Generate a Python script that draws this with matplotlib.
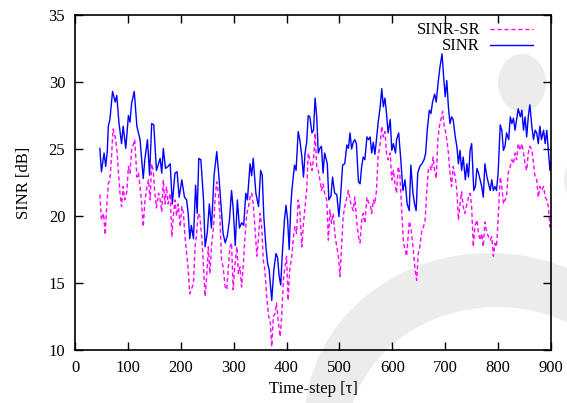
import matplotlib
matplotlib.use("Agg")
import matplotlib.pyplot as plt
from matplotlib.patches import Ellipse, Polygon
import numpy as np

plt.rcParams['font.family'] = ['Liberation Serif', 'DejaVu Serif']
plt.rcParams['mathtext.fontset'] = 'stix'

# SINR (solid blue) samples: time-step, dB
sinr_t = [47, 50, 55, 58, 61, 63, 66, 71, 76, 79, 83, 88, 91, 96, 101, 104, 107, 112, 117, 123,
          129, 132, 137, 141, 145, 149, 154, 161, 164, 167, 171, 176, 180, 184, 189, 193, 197, 202, 207, 211,
          214, 217, 220, 224, 228, 231, 234, 238, 243, 246, 250, 254, 258, 263, 268, 272, 276, 280, 284, 288,
          292, 296, 299, 303, 307, 311, 315, 319, 323, 326, 331, 334, 337, 342, 347, 351, 354, 357, 361, 364,
          367, 372, 376, 380, 383, 386, 389, 392, 396, 399, 402, 405, 408, 410, 413, 415, 418, 422, 425, 429,
          432, 435, 438, 441, 444, 448, 451, 454, 457, 460, 463, 466, 469, 472, 477, 480, 484, 487, 491, 495,
          499, 502, 506, 510, 514, 517, 520, 523, 526, 529, 532, 536, 539, 542, 545, 548, 552, 555, 558, 561,
          564, 567, 570, 573, 577, 580, 583, 586, 589, 592, 596, 599, 602, 606, 608, 612, 616, 620, 624, 628,
          632, 635, 639, 642, 645, 648, 652, 656, 660, 663, 666, 670, 673, 676, 680, 683, 687, 690, 694, 697,
          700, 703, 706, 709, 712, 715, 719, 722, 725, 728, 731, 734, 738, 741, 744, 747, 750, 754, 757, 760,
          763, 766, 769, 772, 775, 779, 782, 785, 788, 791, 794, 797, 800, 804, 807, 810, 813, 816, 820, 823,
          826, 829, 832, 835, 838, 842, 845, 848, 851, 854, 857, 860, 864, 867, 870, 873, 876, 879, 882, 886,
          889, 892, 895, 898, 900]
sinr_db = [25.05, 23.3, 24.7, 23.7, 24.8, 26.7, 27.2, 29.3, 28.5, 29.0, 27.0, 25.4, 26.7, 25.05, 27.5, 27.0, 28.4, 29.3, 26.7, 25.7,
           22.8, 24.2, 25.7, 23.05, 26.9, 26.8, 23.4, 24.3, 23.2, 25.05, 23.55, 23.7, 23.9, 20.9, 23.2, 23.3, 21.4, 22.7, 21.4, 21.2,
           20.2, 18.3, 19.3, 18.3, 22.3, 20.2, 24.3, 24.2, 21.2, 17.7, 18.7, 20.9, 19.1, 23.05, 24.8, 23.0, 20.9, 18.7, 18.0, 18.5,
           19.7, 21.9, 20.6, 17.8, 21.2, 19.1, 19.5, 19.3, 21.7, 21.2, 23.9, 23.0, 24.3, 21.7, 20.7, 23.4, 23.05, 19.95, 17.7, 16.5,
           16.0, 13.7, 16.0, 17.2, 16.9, 15.5, 14.85, 17.2, 19.7, 20.8, 19.7, 17.5, 20.7, 21.9, 23.0, 23.8, 23.4, 26.3, 25.7, 24.4,
           22.9, 24.7, 25.5, 27.5, 27.4, 26.2, 26.4, 28.8, 27.4, 24.7, 25.05, 25.2, 23.2, 24.7, 23.9, 21.2, 21.5, 22.9, 21.7, 21.6,
           19.95, 21.4, 23.8, 23.9, 25.3, 25.05, 26.2, 25.0, 25.5, 25.7, 25.4, 22.55, 22.4, 23.7, 24.4, 24.2, 25.9, 25.7, 25.9, 24.7,
           25.5, 24.6, 25.7, 26.9, 28.15, 29.5, 28.15, 28.8, 27.65, 26.2, 27.2, 24.9, 25.4, 24.7, 25.7, 26.2, 24.2, 21.9, 22.7, 20.9,
           20.4, 23.8, 21.7, 20.9, 20.4, 23.2, 23.7, 23.9, 24.2, 24.7, 26.4, 27.9, 27.65, 28.5, 29.1, 28.5, 30.1, 31.1, 32.1, 30.4,
           28.9, 30.1, 28.15, 26.9, 27.4, 27.2, 25.9, 25.2, 23.9, 24.9, 23.4, 24.4, 22.7, 23.9, 22.9, 24.9, 25.4, 21.9, 22.2, 23.55,
           23.2, 22.7, 22.2, 21.4, 23.9, 22.9, 22.4, 21.9, 22.7, 21.9, 22.2, 21.9, 23.2, 26.8, 26.4, 24.9, 25.2, 26.2, 25.7, 27.4,
           26.9, 27.3, 26.4, 27.2, 28.0, 27.4, 27.9, 26.4, 27.4, 25.9, 27.4, 28.3, 26.6, 25.7, 26.4, 26.2, 25.4, 26.7, 25.7, 26.4,
           25.4, 26.4, 24.9, 23.4, 24.0]

# SINR-SR (dashed magenta) samples: time-step, dB
sr_t = [47, 50, 54, 57, 60, 63, 66, 69, 72, 76, 79, 82, 85, 88, 91, 94, 98, 101, 104, 107,
        110, 113, 117, 120, 123, 126, 129, 132, 136, 139, 142, 145, 148, 151, 154, 158, 161, 164, 167, 170,
        173, 176, 180, 183, 186, 189, 192, 195, 199, 202, 205, 208, 211, 214, 217, 220, 224, 227, 230, 233,
        236, 240, 243, 246, 249, 252, 255, 258, 262, 265, 268, 271, 274, 277, 280, 284, 287, 290, 293, 296,
        299, 302, 306, 309, 312, 315, 318, 321, 325, 328, 331, 334, 337, 340, 344, 347, 350, 353, 356, 359,
        362, 366, 369, 372, 375, 378, 381, 384, 388, 391, 394, 397, 400, 403, 406, 410, 413, 416, 419, 422,
        425, 429, 432, 435, 438, 441, 444, 448, 451, 454, 457, 460, 463, 466, 469, 472, 476, 479, 482, 485,
        488, 492, 495, 498, 501, 504, 507, 510, 514, 517, 520, 523, 526, 529, 533, 536, 539, 542, 545, 548,
        552, 555, 558, 561, 564, 567, 570, 573, 577, 580, 583, 586, 589, 592, 596, 599, 602, 605, 608, 611,
        614, 618, 621, 627, 632, 635, 639, 643, 646, 649, 652, 656, 659, 662, 665, 668, 671, 674, 677, 680,
        683, 686, 689, 692, 695, 698, 700, 703, 706, 709, 712, 715, 719, 722, 725, 728, 731, 734, 737, 741,
        744, 747, 750, 753, 756, 760, 763, 766, 769, 772, 775, 779, 782, 785, 788, 791, 794, 797, 800, 804,
        807, 810, 813, 816, 819, 823, 826, 829, 832, 835, 838, 842, 845, 848, 851, 854, 857, 860, 864, 867,
        870, 873, 876, 879, 882, 886, 889, 892, 895, 898, 900]
sr_db = [21.6, 19.7, 20.2, 18.6, 20.7, 22.4, 22.7, 24.4, 26.5, 25.9, 25.05, 23.4, 21.7, 20.7, 22.2, 21.2, 21.8, 23.7, 23.2, 24.9,
         25.3, 25.7, 22.9, 23.2, 22.2, 20.9, 19.2, 21.0, 22.2, 22.7, 21.2, 23.9, 23.4, 21.7, 20.6, 21.7, 21.2, 20.3, 22.7, 20.9,
         22.2, 20.9, 21.7, 18.45, 20.0, 21.2, 20.0, 20.9, 19.2, 20.7, 20.2, 18.45, 17.2, 16.0, 14.2, 14.5, 15.0, 17.7, 18.7, 20.2,
         20.0, 18.2, 16.2, 14.0, 15.5, 17.7, 15.7, 17.7, 19.2, 21.4, 22.55, 21.7, 19.95, 16.7, 16.2, 14.7, 14.5, 16.2, 17.7, 18.0,
         14.5, 16.2, 17.7, 15.7, 16.2, 14.7, 16.2, 18.2, 20.2, 20.7, 21.4, 21.7, 20.9, 19.2, 17.0, 18.45, 20.2, 19.2, 16.7, 16.0,
         14.2, 12.5, 12.25, 10.25, 12.5, 12.7, 13.5, 12.25, 11.0, 12.7, 15.2, 16.2, 17.0, 13.7, 16.0, 17.0, 18.45, 19.2, 18.7, 21.2,
         20.45, 17.7, 19.45, 20.7, 21.9, 24.7, 24.2, 23.4, 24.2, 26.2, 23.7, 23.4, 22.7, 21.9, 22.4, 21.7, 21.2, 18.2, 20.45, 19.45,
         20.2, 18.45, 17.7, 17.0, 15.5, 17.7, 19.95, 20.7, 21.4, 21.9, 21.2, 20.7, 20.4, 21.4, 19.45, 18.45, 18.0, 19.7, 20.2, 19.45,
         21.4, 21.0, 20.9, 20.2, 21.2, 20.9, 21.9, 24.4, 25.4, 26.7, 25.9, 26.3, 24.7, 24.2, 24.7, 22.7, 23.4, 22.4, 21.7, 23.7,
         23.2, 20.2, 18.0, 17.0, 19.6, 19.2, 17.7, 16.0, 15.2, 17.2, 17.7, 19.0, 19.2, 19.7, 21.7, 23.4, 23.7, 23.4, 24.4, 23.4,
         22.8, 25.7, 26.7, 27.2, 27.8, 26.7, 26.4, 25.7, 24.7, 23.2, 22.2, 23.7, 22.9, 21.9, 19.7, 20.9, 21.8, 20.7, 20.2, 20.9,
         21.4, 21.7, 20.7, 17.7, 19.2, 19.7, 18.7, 18.2, 18.7, 17.7, 19.55, 18.7, 18.45, 18.2, 18.45, 17.0, 17.95, 17.7, 19.7, 22.9,
         22.2, 20.9, 21.2, 21.4, 23.2, 23.7, 24.2, 23.9, 24.7, 24.2, 25.4, 24.9, 25.4, 24.7, 23.9, 23.4, 24.7, 25.2, 24.9, 23.9,
         22.9, 22.7, 21.4, 22.2, 21.9, 22.2, 21.4, 21.2, 20.7, 19.2, 19.6]

x_ticks = [0, 100, 200, 300, 400, 500, 600, 700, 800, 900]
y_ticks = [10, 15, 20, 25, 30, 35]

W, H = 567, 403
fig = plt.figure(figsize=(W / 100, H / 100), dpi=100)

# light grey backdrop emblem, drawn in pixel space behind the plot
bg = fig.add_axes([0, 0, 1, 1], zorder=0)
bg.set_xlim(0, W)
bg.set_ylim(H, 0)
bg.axis('off')
grey = '#ececec'
bg.add_patch(Ellipse((522, 83), 48, 58, color=grey, lw=0))
bg.add_patch(Ellipse((596, 180), 64, 64, color=grey, lw=0))
t_out = np.linspace(np.pi + 0.5, -0.6, 160)
t_in = np.linspace(-0.6, np.pi + 0.5, 160)
outer = np.column_stack([490 + 185 * np.cos(t_out), 420 - 167 * np.sin(t_out)])
inner = np.column_stack([497 + 150 * np.cos(t_in), 440 - 133 * np.sin(t_in)])
bg.add_patch(Polygon(np.vstack([outer, inner]), closed=True, color=grey, lw=0))

ax = fig.add_axes([75 / W, 1 - 350 / H, 476 / W, 335 / H], zorder=1)
ax.set_facecolor('none')

ax.plot(sr_t, sr_db, color='#ff00ff', lw=1.0, dashes=(3, 2), label='SINR-SR')
ax.plot(sinr_t, sinr_db, color='#0000ff', lw=1.0, label='SINR')

ax.set_xlim(0, 900)
ax.set_ylim(10, 35)
ax.set_xticks(x_ticks)
ax.set_yticks(y_ticks)
ax.tick_params(direction='in', length=6, width=1, top=True, right=True,
               labelsize=12, pad=7)
for s in ax.spines.values():
    s.set_linewidth(1.2)

ax.set_xlabel('Time-step [τ]', fontsize=12, labelpad=4)
ax.set_ylabel('SINR [dB]', fontsize=12, labelpad=12)

ax.legend(loc='upper right', bbox_to_anchor=(0.963, 0.978), frameon=False,
          markerfirst=False, fontsize=12, handlelength=2.6, handletextpad=0.6,
          labelspacing=0.0, borderaxespad=0.0, borderpad=0.0)

fig.savefig('out.png', dpi=100)
